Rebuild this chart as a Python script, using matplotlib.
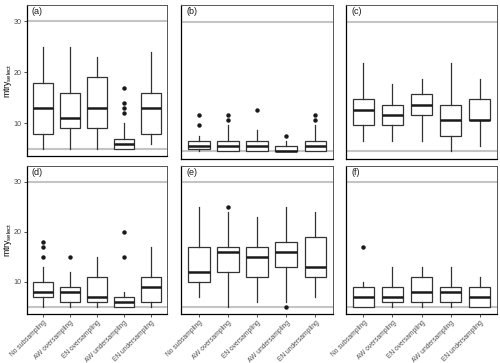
import numpy as np
import matplotlib
matplotlib.use("Agg")
import matplotlib.pyplot as plt

plt.rcParams['font.family'] = ['Liberation Sans', 'DejaVu Sans']
plt.rcParams['mathtext.fontset'] = 'custom'
plt.rcParams['mathtext.rm'] = 'Liberation Sans'

# Kategoriler
methods = ["No subsampling", "AW oversampling", "EN oversampling",
           "AW undersampling", "EN undersampling"]
panel_labels = ["(a)", "(b)", "(c)", "(d)", "(e)", "(f)"]

# Kutu grafiği istatistikleri (her panel için)
a_lo = [5, 5, 5, 5, 6]
a_q1 = [8, 9, 9, 5, 8]
a_med = [13, 11, 13, 6, 13]
a_q3 = [18, 16, 19, 7, 16]
a_hi = [25, 25, 23, 10, 24]
a_out = [[], [], [], [17, 14, 13, 12], []]

b_lo = [5, 5, 5, 5, 5]
b_q1 = [5.5, 5, 5, 5, 5]
b_med = [6, 6, 6, 5, 6]
b_q3 = [7, 7, 7, 6, 7]
b_hi = [8, 10, 9, 7, 10]
b_out = [[12, 10], [12, 11], [13], [8], [12, 11]]

c_lo = [7, 7, 7, 5, 6]
c_q1 = [10, 10, 12, 8, 11]
c_med = [13, 12, 14, 11, 11]
c_q3 = [15, 14, 16, 14, 15]
c_hi = [22, 18, 19, 22, 19]
c_out = [[], [], [], [], []]

d_lo = [5, 5, 5, 5, 5]
d_q1 = [7, 6, 6, 5, 6]
d_med = [8, 8, 7, 6, 9]
d_q3 = [10, 9, 11, 7, 11]
d_hi = [13, 12, 15, 8, 17]
d_out = [[18, 17, 15], [15], [], [20, 15], []]

e_lo = [7, 5, 6, 6, 7]
e_q1 = [10, 12, 11, 13, 11]
e_med = [12, 16, 15, 16, 13]
e_q3 = [17, 17, 17, 18, 19]
e_hi = [25, 24, 23, 25, 24]
e_out = [[], [25], [], [5], []]

f_lo = [5, 5, 5, 5, 5]
f_q1 = [5, 6, 6, 6, 5]
f_med = [7, 7, 8, 8, 7]
f_q3 = [9, 9, 11, 9, 9]
f_hi = [10, 13, 13, 13, 11]
f_out = [[17], [], [], [], []]

ref_lines = [5, 30]
y_ticks = [10, 20, 30]

panels = [
    (a_lo, a_q1, a_med, a_q3, a_hi, a_out),
    (b_lo, b_q1, b_med, b_q3, b_hi, b_out),
    (c_lo, c_q1, c_med, c_q3, c_hi, c_out),
    (d_lo, d_q1, d_med, d_q3, d_hi, d_out),
    (e_lo, e_q1, e_med, e_q3, e_hi, e_out),
    (f_lo, f_q1, f_med, f_q3, f_hi, f_out),
]

# Panel konumları (piksel: sol, üst, sağ, alt)
W, H = 500, 363
rects = [
    (27, 5, 167, 156), (181, 5, 333, 158.5), (346, 5, 497, 158.5),
    (27, 166, 167, 314), (181, 166, 333, 314), (346, 166, 497, 314),
]

fig = plt.figure(figsize=(5, 3.63), dpi=100)

for i, (lo, q1, med, q3, hi, out) in enumerate(panels):
    l, t, r, b = rects[i]
    ax = fig.add_axes([l / W, 1 - b / H, (r - l) / W, (b - t) / H])

    stats = []
    for k in range(len(methods)):
        stats.append({"whislo": lo[k], "q1": q1[k], "med": med[k],
                      "q3": q3[k], "whishi": hi[k], "fliers": out[k]})

    for yv in ref_lines:
        ax.axhline(yv, color="#c4c4c4", lw=1.5, zorder=1)

    bp = ax.bxp(stats, positions=np.arange(1, 6), widths=0.75,
                showcaps=False, patch_artist=True,
                boxprops=dict(facecolor="white", edgecolor="#333333", lw=0.9),
                whiskerprops=dict(color="#333333", lw=0.9),
                medianprops=dict(color="#1a1a1a", lw=1.8),
                flierprops=dict(marker="o", markersize=3.2,
                                markerfacecolor="#1a1a1a", markeredgecolor="none"))
    for p in bp["boxes"]:
        p.set_zorder(2)

    ax.set_xlim(0.4, 5.6)
    ax.set_ylim(3.6, 33.2)

    for s in ["top", "right"]:
        ax.spines[s].set_color("#555555")
        ax.spines[s].set_linewidth(0.7)
    for s in ["left", "bottom"]:
        ax.spines[s].set_color("black")
        ax.spines[s].set_linewidth(0.9)

    ax.text(0.035, 0.955, panel_labels[i], transform=ax.transAxes,
            fontsize=6.5, color="#1a1a1a", ha="left", va="center")

    # y ekseni sadece sol panellerde
    if i % 3 == 0:
        ax.set_yticks(y_ticks)
        ax.tick_params(axis="y", labelsize=5.2, labelcolor="#4d4d4d",
                       color="#333333", length=2.5, width=0.6, pad=1.5)
        fig.text(8 / W, 1 - ((t + b) / 2) / H, r"mtry$_{\mathregular{select}}$",
                 rotation=90, ha="center", va="center", fontsize=6.2)
    else:
        ax.set_yticks([])

    # x ekseni sadece alt panellerde
    if i >= 3:
        ax.set_xticks(np.arange(1, 6))
        ax.set_xticklabels(methods, rotation=45, ha="right", va="top",
                           rotation_mode="anchor")
        ax.tick_params(axis="x", labelsize=4.8, labelcolor="#4d4d4d",
                       color="#333333", length=2.5, width=0.6, pad=1.5)
    else:
        ax.set_xticks([])

fig.savefig("out.png", dpi=100)
